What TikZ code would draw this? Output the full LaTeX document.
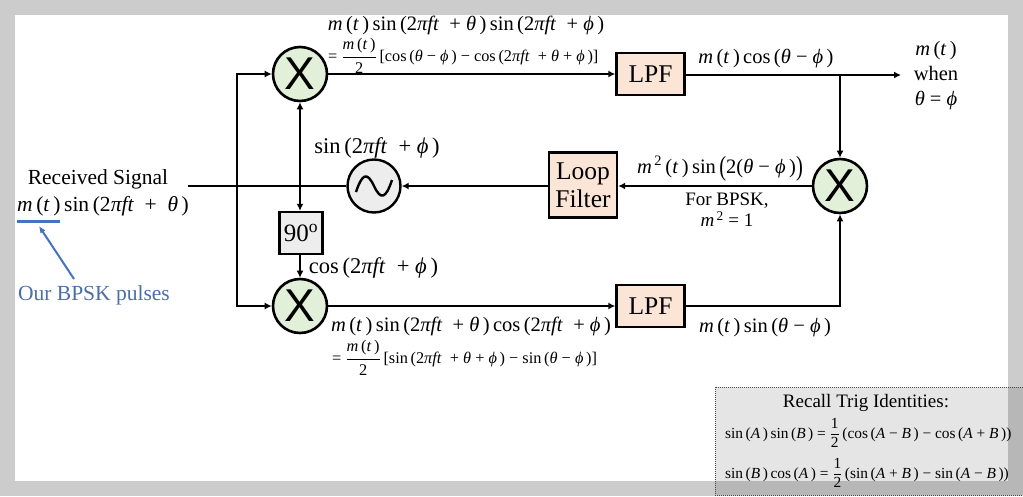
\documentclass[tikz,border=0pt]{standalone}
\usepackage{fontspec}
\setmainfont{Liberation Serif}
\usetikzlibrary{arrows.meta,calc}
\definecolor{framegray}{HTML}{CCCCCC}
\definecolor{mixfill}{HTML}{E2F0D9}
\definecolor{lpffill}{HTML}{FBE5D6}
\definecolor{boxgray}{HTML}{EDEDED}
\definecolor{bluetxt}{HTML}{4A6FA8}
\definecolor{blueln}{HTML}{4472C4}
\newcommand\ii[1]{\textit{#1}}
\newcommand\mt{\ii{m}\,(\ii{t}\,)}
\newcommand\tft{2\ii{πft}}
\newcommand\tht{\ii{θ}}
\newcommand\ph{\ii{ϕ}}
\newcommand\fr[2]{$\displaystyle\frac{\hbox{#1}}{\hbox{#2}}$}
\newcommand\bigp[1]{\raisebox{-0.12em}{\scalebox{1}[1.35]{#1}}}
\tikzset{
  x=1pt,y=-1pt,
  wire/.style={line width=2.4pt,draw=black},
  arr/.style={wire,-{Latex[length=7pt,width=7pt]}},
  barr/.style={wire,{Latex[length=7pt,width=7pt]}-{Latex[length=7pt,width=7pt]}},
  mixer/.style={circle,draw=black,line width=2.6pt,fill=mixfill,minimum size=54pt,inner sep=0pt,font=\fontsize{46}{46}\fontspec{Liberation Sans}},
  osc/.style={circle,draw=black,line width=2.4pt,fill=boxgray,minimum size=53pt,inner sep=0pt},
  block/.style={draw=black,line width=2.4pt,fill=lpffill,inner sep=0pt,font=\fontsize{25.5}{30}\selectfont,align=center},
  phase/.style={draw=black,line width=2.4pt,fill=boxgray,inner sep=0pt,font=\fontsize{25}{30}\selectfont},
  lbl/.style={inner sep=0pt,font=\fontsize{21.5}{25}\selectfont,align=center},
  lblb/.style={inner sep=0pt,font=\fontsize{22.5}{26}\selectfont,align=center},
  lblm/.style={inner sep=0pt,font=\fontsize{20.5}{24}\selectfont,align=center},
  lbls/.style={inner sep=0pt,font=\fontsize{19}{21}\selectfont,align=center},
  lblt/.style={inner sep=0pt,font=\fontsize{16.3}{19}\selectfont,align=center},
  lbli/.style={inner sep=0pt,font=\fontsize{15.4}{18}\selectfont,align=center},
}
\begin{document}
\begin{tikzpicture}
\useasboundingbox (0,0) rectangle (1023,496);
\fill[framegray] (0,0) rectangle (1023,496);
\fill[white] (15,15) rectangle (1008,481);

% junctions
\coordinate (inp) at (188,186);
\coordinate (jin) at (237,186);
\coordinate (jtop) at (237,74);
\coordinate (jbot) at (237,306);
\coordinate (josc) at (300,186);
\coordinate (jout) at (840,75);
\coordinate (outp) at (901,75);
\coordinate (cor) at (840,306);

% blocks
\node[mixer] (m1) at (300,74) {X};
\node[mixer] (m2) at (300,306) {X};
\node[mixer] (m3) at (840,186) {X};
\node[osc] (vco) at (374,186) {};
\draw[line width=2.4pt,line join=round] (356,192) .. controls (362,174) and (367,171) .. (374,186) .. controls (381,201) and (386,198) .. (392,180);
\node[phase,minimum width=43pt,minimum height=42pt] (ps) at (301,233) {90\textsuperscript{o}};
\node[block,minimum width=68pt,minimum height=42pt] (lpf1) at (650.5,74) {LPF};
\node[block,minimum width=68pt,minimum height=42pt] (lpf2) at (650.5,306) {LPF};
\node[block,minimum width=68pt,minimum height=65pt] (lf) at (583,185) {Loop\\[-2pt]Filter};

% connectors
\draw[wire] (inp) -- (josc) -- (vco.west);
\draw[wire,line cap=rect] (jtop) -- (jbot);
\draw[arr] (jtop) -- (m1.west);
\draw[arr] (jbot) -- (m2.west);
\draw[barr] (m1.south) -- (ps.north -| m1.south);
\draw[arr] (ps.south -| m2.north) -- (m2.north);
\draw[arr] (m1.east) -- (lpf1.west);
\draw[arr] (m2.east) -- (lpf2.west);
\draw[arr] (lpf1.east |- jout) -- (outp);
\draw[arr] (jout) -- (m3.north);
\draw[arr] (lpf2.east) -- (cor) -- (m3.south);
\draw[arr] (m3.west) -- (lf.east |- m3.west);
\draw[arr] (lf.west |- vco.east) -- (vco.east);

% input labels
\node[lbl] (rx) at (98,179) {Received Signal};
\node[lbl] (rxm) at (103,206) {\mt\,sin\,(\tft\ \ +\ \ \tht\,)};
\coordinate (ul1) at (17,221);
\coordinate (ul2) at (60,221);
\draw[blueln,line width=3pt] (ul1) -- (ul2);
\node[lbl,text=bluetxt] (bp) at (94,295) {Our BPSK pulses};
\coordinate (bpa) at (74,279);
\coordinate (bpb) at (39,226);
\draw[blueln,line width=2pt,-{Latex[length=7pt,width=6pt]}] (bpa) -- (bpb);

% top labels
\node[lblm] (t1) at (466,25) {\mt\,sin\,(\tft\ \ +\ \tht\,)\,sin\,(\tft\ \ +\ \ph\,)};
\node[lblt,anchor=west] (t2) at (328,56) {=\ \fr{\mt}{2}\,[cos\,(\tht\ −\ \ph\,)\ −\ cos\,(\tft\ \ +\ \tht\ +\ \ph\,)]};
\node[lblm] (t3) at (766,59) {\mt\,cos\,(\tht\ −\ \ph\,)};
\node[lblm] (t4) at (936,76) {\mt\\[1pt]when\\[1pt]\tht\ =\ \ph};
\node[lblb] (t5) at (377,148) {sin\,(\tft\ \ +\ \ph\,)};

% middle labels
\node[lblm] (t6) at (720,169) {\ii{m}\textsuperscript{\,2}\,(\ii{t}\,)\,sin\,\bigp{(}2(\tht\ −\ \ph\,)\bigp{)}};
\node[lbls] (t7) at (727,210) {For BPSK,\\\ii{m}\textsuperscript{\,2}\ =\ 1};

% bottom labels
\node[lblb] (t8) at (373.5,268) {cos\,(\tft\ \ +\ \ph\,)};
\node[lblm] (t9) at (471,326) {\mt\,sin\,(\tft\ \ +\ \tht\,)\,cos\,(\tft\ \ +\ \ph\,)};
\node[lblt,anchor=west] (t10) at (332,358) {=\ \fr{\mt}{2}\,[sin\,(\tft\ \ +\ \tht\ +\ \ph\,)\ −\ sin\,(\tht\ −\ \ph\,)]};
\node[lblm] (t11) at (765,327.5) {\mt\,sin\,(\tht\ −\ \ph\,)};

% identities box
\fill[black,opacity=0.1] (715,387) rectangle (1023,495);
\draw[black!70,line width=1pt,densely dotted] (715,387) rectangle (1023,495);
\node[lbl,font=\fontsize{19}{22}\selectfont] (r0) at (866,402.5) {Recall Trig Identities:};
\node[lbli,anchor=west] (r1) at (725,433) {sin\,(\ii{A}\,)\,sin\,(\ii{B}\,)\ =\ \fr{1}{2}\,(cos\,(\ii{A}\ −\ \ii{B}\,)\ −\ cos\,(\ii{A}\ +\ \ii{B}\,))};
\node[lbli,anchor=west] (r2) at (725,473) {sin\,(\ii{B}\,)\,cos\,(\ii{A}\,)\ =\ \fr{1}{2}\,(sin\,(\ii{A}\ +\ \ii{B}\,)\ −\ sin\,(\ii{A}\ −\ \ii{B}\,))};
\end{tikzpicture}
\end{document}
